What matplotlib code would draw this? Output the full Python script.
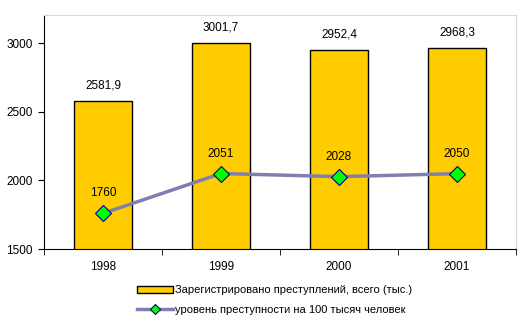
import numpy as np
import matplotlib.pyplot as plt

plt.rcParams['font.family'] = ['Liberation Sans', 'DejaVu Sans']

years = ['1998', '1999', '2000', '2001']
crimes = [2581.9, 3001.7, 2952.4, 2968.3]
crime_labels = ['2581,9', '3001,7', '2952,4', '2968,3']
rate = [1760, 2051, 2028, 2050]

fig = plt.figure(figsize=(5.31, 3.25), dpi=100)
ax = fig.add_axes([44/531, 1 - 249/325, 472/531, 234/325])

x = np.arange(len(years))
bars = ax.bar(x, crimes, width=0.49, color='#FFCC00', edgecolor='black', linewidth=1,
              label='Зарегистрировано преступлений, всего (тыс.)', zorder=2)
line, = ax.plot(x, rate, color='#8080B0', lw=2.5, marker='D', markersize=8,
                markerfacecolor='#00FF00', markeredgecolor='#000080', markeredgewidth=0.8,
                label='уровень преступности на 100 тысяч человек', zorder=3)

for xi, v, s in zip(x, crimes, crime_labels):
    ax.annotate(s, (xi, v), xytext=(0, 7), textcoords='offset points',
                ha='center', va='bottom', fontsize=8.5)
for xi, v in zip(x, rate):
    ax.annotate(str(v), (xi, v), xytext=(0, 10), textcoords='offset points',
                ha='center', va='bottom', fontsize=8.5)

ax.set_xlim(-0.5, 3.5)
ax.set_ylim(1500, 3208)
ax.set_yticks([1500, 2000, 2500, 3000])
ax.set_xticks(x)
ax.set_xticklabels(years)
ax.set_xticks(np.arange(-0.5, 4, 1), minor=True)
ax.tick_params(axis='x', which='major', length=0, pad=9, labelsize=8.5)
ax.tick_params(axis='x', which='minor', length=4, direction='out')
ax.tick_params(axis='y', length=4, direction='out', labelsize=8.5, pad=4)

for side in ['top', 'right']:
    ax.spines[side].set_color('#D9D9D9')
for side in ['left', 'bottom']:
    ax.spines[side].set_color('black')

ax.legend([bars, line], [bars.get_label(), line.get_label()],
          loc='upper left', bbox_to_anchor=(133/531, 1 - 281/325), bbox_transform=fig.transFigure,
          frameon=False, fontsize=8, handlelength=3.2, handleheight=0.65, handletextpad=0.2,
          labelspacing=0.85, borderaxespad=0, markerscale=0.6)

plt.savefig('out.png', dpi=100)
